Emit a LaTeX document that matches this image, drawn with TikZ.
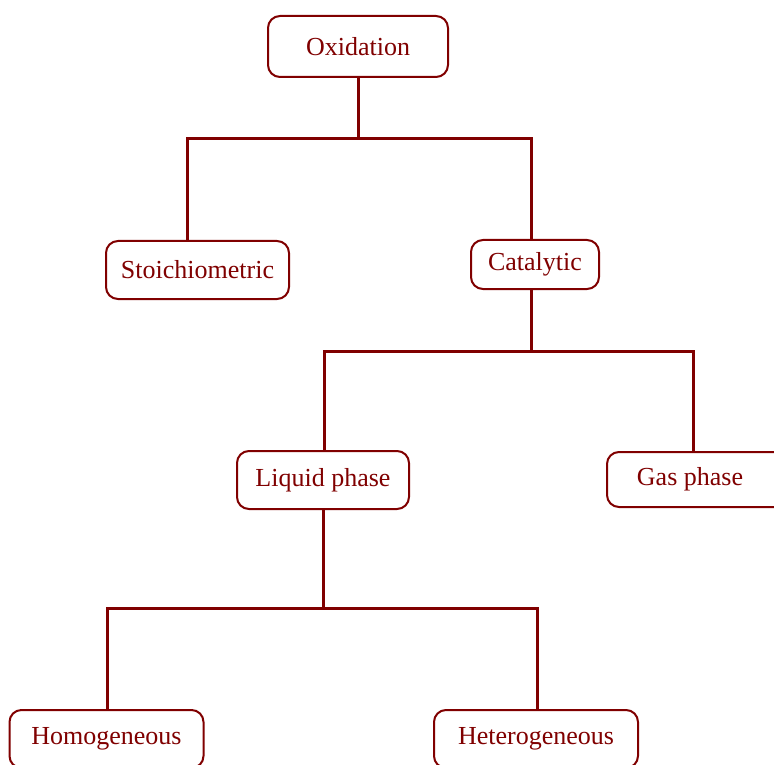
\documentclass[tikz,border=0pt]{standalone}
\usepackage{fontspec}
\setmainfont{Liberation Serif}
\usetikzlibrary{positioning}
\definecolor{oxred}{HTML}{800000}
\tikzset{
  box/.style ={draw=oxred,line width=1pt,rounded corners=6pt,fill=white,
               text=oxred,font=\fontsize{13}{15}\selectfont,inner sep=0pt},
  link/.style={draw=oxred,line width=1.5pt},
}
\begin{document}
\begin{tikzpicture}[x=0.5pt,y=-0.5pt]
  \useasboundingbox (0,0) rectangle (774,764);

  % boxes
  \node[box,minimum width=90pt,minimum height=30.5pt]   (ox)   at (358,46.5)  {Oxidation};
  \node[box,minimum width=91.5pt,minimum height=29pt]   (stoi) at (197.5,270) {Stoichiometric};
  \node[box,minimum width=64pt,minimum height=24.5pt]   (cat)  at (535,264.5) {Catalytic};
  \node[box,minimum width=86pt,minimum height=29pt]     (liq)  at (323,480)   {Liquid phase};
  \node[box,minimum width=91.5pt,minimum height=27.5pt] (gas)  at (698.5,479.5) {Gas phase\hspace*{8.5pt}};
  \node[box,minimum width=97pt,minimum height=29pt]     (hom)  at (106.5,739) {Homogeneous};
  \node[box,minimum width=102pt,minimum height=29pt]    (het)  at (536,739)   {Heterogeneous};

  % branch points
  \coordinate (b1) at (187,139);
  \coordinate (b2) at (531,139);
  \coordinate (b3) at (324,351);
  \coordinate (b4) at (693,351);
  \coordinate (b5) at (107,608);
  \coordinate (b6) at (537,608);

  % tree lines
  \draw[link] (ox.south) -- (ox.south |- b1);
  \draw[link] (b1 |- stoi.north) -- (b1) -- (b2) -- (b2 |- cat.north);
  \draw[link] (b2 |- cat.south) -- (b2 |- b3);
  \draw[link] (b3 |- liq.north) -- (b3) -- (b4) -- (b4 |- gas.north);
  \draw[link] (liq.south) -- (liq.south |- b5);
  \draw[link] (b5 |- hom.north) -- (b5) -- (b6) -- (b6 |- het.north);
\end{tikzpicture}
\end{document}
